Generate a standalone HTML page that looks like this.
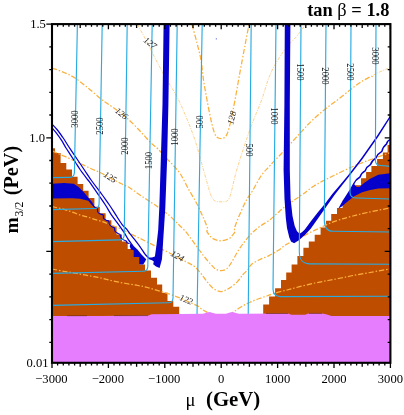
<!DOCTYPE html>
<html lang="en">
<head>
<meta charset="utf-8">
<title>tan beta = 1.8</title>
<style>
html,body{margin:0;padding:0;background:#fff;}
body{width:404px;height:415px;overflow:hidden;}
svg{display:block;will-change:transform;}
</style>
</head>
<body>
<svg width="404" height="415" viewBox="0 0 404 415">
<rect width="404" height="415" fill="#fff"/>
<path fill="#BF4D00" d="M52 316.2 L52 148.3 L55 148.3 L55 153.1 L60.6 153.1 L60.6 163 L66.3 163 L66.3 169.4 L72 169.4 L72 176.8 L77.6 176.8 L77.6 184 L83.2 184 L83.2 190.7 L88.6 190.7 L88.6 198 L94.4 198 L94.4 206.7 L99.8 206.7 L99.8 213.2 L105.6 213.2 L105.6 220.2 L111.4 220.2 L111.4 226.6 L116.6 226.6 L116.6 234.4 L122 234.4 L122 241.6 L127.7 241.6 L127.7 249 L133.3 249 L133.3 257 L139.1 257 L139.1 264.5 L145 264.5 L145 270.4 L151 270.4 L151 277.8 L157 277.8 L157 284.5 L162.2 284.5 L162.2 292.7 L167.5 292.7 L167.5 300.9 L173.3 300.9 L173.3 306.8 L179.2 306.8 L179.2 316.2Z"/>
<path fill="#BF4D00" d="M390.4 316.2 L390.4 145 L387.6 145 L387.6 152.5 L382.9 152.5 L382.9 159 L377.1 159 L377.1 165.9 L371.4 165.9 L371.4 172.1 L366.1 172.1 L366.1 178.2 L361 178.2 L361 185.2 L354.6 185.2 L354.6 193.1 L348.4 193.1 L348.4 200.6 L342.6 200.6 L342.6 208 L337 208 L337 214.1 L331.2 214.1 L331.2 220.8 L325.9 220.8 L325.9 227.5 L320.6 227.5 L320.6 234.7 L314.7 234.7 L314.7 241.4 L308.8 241.4 L308.8 247.8 L303.4 247.8 L303.4 256 L297.4 256 L297.4 264.5 L291.6 264.5 L291.6 272.6 L286.2 272.6 L286.2 280.1 L281 280.1 L281 288.2 L275.1 288.2 L275.1 296.4 L269.1 296.4 L269.1 304.6 L263.2 304.6 L263.2 316.2Z"/>
<path fill="#0600CB" d="M52 183.7 L64.1 182.9 L73.7 183.7 L78.6 186.9 L83.4 191.7 L88.2 197.4 L92.2 202.2 L94.9 207.6 L91.4 204.6 L88.2 200.8 L80.2 198.7 L72.1 198.2 L52 198.6Z"/>
<path fill="#0600CB" d="M390.4 173.2 L378.3 174.8 L370.2 178.8 L364 183 L359.6 187 L356.8 187 L355.4 185.8 L353.8 183.6 L352.8 184 L349.8 189.6 L346.8 194.2 L343.4 199.6 L340.5 204.6 L338.4 208.6 L341.5 206.8 L346.1 202.8 L354.1 196.3 L362.2 192.3 L370.2 189.9 L378.3 188.5 L390.4 188.3Z"/>
<g fill="none" stroke="#FBB03B" stroke-linecap="butt">
<path stroke-width="1.25" stroke-dasharray="5.2 1.9 1.5 1.9" d="M192 24.5 C192.8 27.6 195.5 37.1 197 43 C198.5 48.9 199.9 53.8 201 60 C202.1 66.2 202.5 73.3 203.5 80 C204.5 86.7 205.8 93.3 207 100 C208.2 106.7 209.8 114.5 211 120 C212.2 125.5 213.4 130.1 214.5 133 C215.6 135.9 216.4 136.7 217.5 137.6 C218.6 138.5 219.8 138.6 221 138.6 C222.2 138.6 223.4 138.5 224.5 137.6 C225.6 136.7 226.4 135.9 227.5 133 C228.6 130.1 229.8 125.5 231 120 C232.2 114.5 233.5 108 235 100 C236.5 92 238.4 80.7 240 72 C241.6 63.3 243 55.9 244.5 48 C246 40.1 248.2 28.4 249 24.5"/>
<path stroke-width="1.25" stroke-dasharray="5.2 1.9 1.5 1.9" d="M52 68 C54 68.8 60.2 70.8 64 72.5 C67.8 74.2 71 75.4 75 78 C79 80.6 83.7 84.5 88 88 C92.3 91.5 97.7 96.3 101 99 C104.3 101.7 105.2 102 108 104 C110.8 106 114.7 108.5 118 111 C121.3 113.5 124.3 115.7 128 119 C131.7 122.3 136.2 127 140 131 C143.8 135 148 140 151 143 C154 146 155.5 146.5 158 149 C160.5 151.5 163.5 155.3 166 158 C168.5 160.7 170.5 162.2 173 165 C175.5 167.8 178.3 170.8 181 175 C183.7 179.2 186.3 185.2 189 190 C191.7 194.8 194.7 199.5 197 204 C199.3 208.5 201.2 212.9 203 217 C204.8 221.1 207 226.2 207.6 228.6 C208.2 231 206.5 230.2 206.8 231.2 C207.1 232.2 208.2 233.6 209.2 234.8 C210.2 236 211 237.6 213 238.6 C215 239.6 218.3 240.8 221 240.8 C223.7 240.8 227 239.6 229 238.6 C231 237.6 231.8 236 232.8 234.8 C233.8 233.6 234.9 232.2 235.2 231.2 C235.5 230.2 234.1 230.3 234.4 228.6 C234.7 226.9 235.8 224.1 237 221 C238.2 217.9 240.1 213.5 241.8 209.8 C243.5 206.1 245.1 202.3 247 199 C248.9 195.7 250.7 193.8 253 190 C255.3 186.2 258.2 180.1 261 176 C263.8 171.9 266.7 169.3 270 165.6 C273.3 161.9 277.3 157.9 281 154 C284.7 150.1 288.3 146 292 142 C295.7 138 299.6 133.7 303 130 C306.4 126.3 308.9 123.5 312.6 120 C316.3 116.5 321.1 112.4 325.3 109 C329.5 105.6 333.9 102.7 338 99.5 C342.1 96.3 346.4 92.8 350 90 C353.6 87.2 356.9 84.7 359.4 83 C361.9 81.3 363 80.7 365 79.6 C367 78.5 370.1 76.7 371.5 76.4 C372.9 76.1 373.2 77.4 373.6 77.6"/>
<path stroke-width="1.25" stroke-dasharray="5.2 1.9 1.5 1.9" d="M52 150.9 C54.5 152 63 155.6 67.3 157.5 C71.6 159.4 74.3 160.8 78 162.5 C81.7 164.2 85.8 166.2 89.6 168 C93.4 169.8 97.3 171.2 101 173 C104.7 174.8 108.5 177.2 112 179 C115.5 180.8 119 182.5 122 184 C125 185.5 127.2 186.3 130 188 C132.8 189.7 135.8 192.2 138.5 194 C141.2 195.8 143.5 197.3 146 199 C148.5 200.7 150.8 202.2 153.5 204 C156.2 205.8 159.2 208 162 210 C164.8 212 167.5 213.8 170 216 C172.5 218.2 174.5 220.5 177 223 C179.5 225.5 182.4 228 184.9 230.8 C187.4 233.6 189.5 236.7 192 240 C194.5 243.3 197.5 247.7 199.7 250.6 C201.9 253.5 203.2 255.2 205 257.5 C206.8 259.8 209.1 262.4 210.8 264.3 C212.6 266.2 213.8 267.9 215.5 269 C217.2 270.1 219.2 270.6 221 270.6 C222.8 270.6 224.7 270.5 226.5 269 C228.3 267.5 230 264.8 231.9 261.8 C233.8 258.8 235.9 254.3 238 251 C240.1 247.7 242.1 244.8 244.3 242 C246.5 239.2 248.6 236.5 251 234 C253.4 231.5 255.8 229.4 259 227 C262.2 224.6 266.8 222.1 270 219.7 C273.2 217.3 275.5 214.8 278 212.6 C280.5 210.4 282.5 208.6 285 206.7 C287.5 204.8 290 203.1 293 201 C296 198.9 299.5 196.5 303 194 C306.5 191.5 310 188.5 314 186 C318 183.5 322.5 181.2 326.8 179 C331.1 176.8 335.6 174.6 340 172.5 C344.4 170.4 349 168.2 353 166.5 C357 164.8 360.2 163.4 364 162 C367.8 160.6 371.1 159.4 375.5 157.8 C379.9 156.2 387.9 153.5 390.4 152.6"/>
<path stroke-width="1.25" stroke-dasharray="5.2 1.9 1.5 1.9" d="M52 206.7 C54 207.1 60.8 208.5 64.1 209.4 C67.4 210.3 69.3 211.1 72 212 C74.7 212.9 77.5 214.1 80.2 215 C82.9 215.9 85.3 216.4 88 217.2 C90.7 218 93.6 219 96.3 219.8 C99 220.6 101.6 221.3 104 222.2 C106.4 223.1 108.1 224 110.8 225 C113.5 226 116.8 227 120 228.4 C123.2 229.8 126.7 231.9 130 233.6 C133.3 235.3 136.7 236.8 140 238.4 C143.3 240 146.7 241.7 150 243.4 C153.3 245.1 156.7 246.8 160 248.4 C163.3 250 166.7 251.5 170 253.2 C173.3 254.9 177 257 180 258.6 C183 260.2 185.5 261.5 188 262.8 C190.5 264.1 192.6 264.9 194.8 266.7 C197 268.5 199 271 201 273.5 C203 276 204.9 279.1 207 281.6 C209.1 284.1 211.2 287 213.5 288.6 C215.8 290.2 218.5 291.5 221 291.5 C223.5 291.5 225.8 290.2 228.5 288.6 C231.2 287 234.8 284.2 237.2 281.9 C239.6 279.5 241.3 276.5 243 274.5 C244.7 272.5 246.2 271.7 247.6 270 C249 268.3 249.6 266.1 251.7 264.3 C253.8 262.6 257.1 260.9 260 259.5 C262.9 258.1 266 257.1 269 255.6 C272 254.1 275.3 252.2 278 250.5 C280.7 248.8 282.7 246.8 285 245.3 C287.3 243.8 289.5 242.7 292 241.5 C294.5 240.3 297.1 239.3 299.9 237.9 C302.7 236.5 305.8 234.6 309 233 C312.2 231.4 316 229.7 319.2 228.2 C322.4 226.7 324.5 225.4 328 224 C331.5 222.6 335.8 220.9 340 219.6 C344.2 218.3 348.3 217.2 353 216 C357.7 214.8 362.6 213.6 368 212.4 C373.4 211.2 381.8 209.6 385.5 208.8 C389.2 208 389.6 208 390.4 207.8"/>
<path stroke-width="1.25" stroke-dasharray="5.2 1.9 1.5 1.9" d="M52 269 C54.2 269.4 60.8 270.8 65 271.5 C69.2 272.2 73 272.8 77 273.5 C81 274.2 85 275.1 89 275.8 C93 276.6 97 277.1 101 278 C105 278.9 108.8 280.1 113 281 C117.2 281.9 121.8 282.8 126 283.5 C130.2 284.2 134.4 284.8 138 285.5 C141.6 286.2 144 286.6 147.3 287.5 C150.6 288.4 154.3 289.5 158 290.6 C161.7 291.7 165.9 293 169.6 294.2 C173.3 295.4 176.8 296.6 180 297.9 C183.2 299.2 186.2 300.7 189 302 C191.8 303.3 194.7 304.3 197 305.6 C199.3 306.9 201.2 308.9 203 310 C204.8 311.1 205.8 311.6 207.5 312.5 C209.2 313.4 212.1 315 213 315.5"/>
<path stroke-width="1.25" stroke-dasharray="5.2 1.9 1.5 1.9" d="M229.5 315.5 C230.2 314.9 232.1 313 234 311.6 C235.9 310.2 238.5 308.5 241 307 C243.5 305.5 246.2 304 249 302.7 C251.8 301.4 255 300.1 258 299 C261 297.9 264.3 296.9 267 296 C269.7 295.1 271 294.4 274.3 293.4 C277.6 292.4 282.8 291.1 287 290 C291.2 288.9 294.9 287.9 299.6 286.7 C304.3 285.5 310.3 284 315 283 C319.7 282 323.7 281.3 328 280.5 C332.3 279.7 336.8 278.8 341 278 C345.2 277.2 348.2 276.4 353 275.5 C357.8 274.6 363.8 273.6 370 272.5 C376.2 271.4 387 269.4 390.4 268.8"/>
<path stroke-width="0.65" stroke-opacity="0.9" stroke-dasharray="3.2 1.2 1 1.2" d="M137.5 24.5 C139.1 27.4 143.7 35.7 147 42 C150.3 48.3 154 56.2 157.3 62.5 C160.6 68.8 163.9 74.6 167 80 C170.1 85.4 173.2 89.7 176 95 C178.8 100.3 180.9 104.6 184 112 C187.1 119.4 191.6 129.9 194.8 139.6 C198.1 149.3 200.9 160.9 203.5 170 C206.1 179.1 208.7 188.9 210.5 194 C212.3 199.1 212.8 199.3 214.5 200.6 C216.2 201.9 218.8 201.8 221 201.8 C223.2 201.8 225.8 202.1 227.5 200.6 C229.2 199.1 229.7 197.4 231 193 C232.3 188.6 233.6 181.2 235.6 174 C237.6 166.8 240.3 158.2 243 150 C245.7 141.8 248.6 133.1 251.7 124.8 C254.8 116.5 258.4 108.7 261.6 100 C264.8 91.3 267.2 80.8 271 72.5 C274.8 64.2 280.2 56.1 284.5 50 C288.8 43.9 293.5 40.2 297 36 C300.5 31.8 304.1 26.4 305.5 24.5"/>
<path stroke-width="0.65" stroke-opacity="0.9" stroke-dasharray="3.2 1.2 1 1.2" d="M373.4 75.2 L376 73.6 L390.4 67.2"/>
</g>
<path fill="#0600CB" d="M163.6 24.1 L162.5 104 L160.8 160 L159.3 208 L158.2 230 L156.5 245 L154.9 256.6 L152 257.5 L148.4 257.5 L148.4 258.9 L152 260.2 L153.8 261.4 L153.2 264.2 L156 266.4 L159.6 268 L161.9 259.6 L162.5 252 L163.2 240 L164.2 225 L165.3 208 L167.1 160 L168.4 104 L169.6 24.1Z"/>
<path fill="#0600CB" d="M130.4 243.4 L132.9 245.2 L137.4 249.6 L141.3 254.2 L144.2 257.2 L146.2 259.2 L145 261.8 L143.2 264.4 L139.1 264.4 L139.1 257 L133.3 257 L133.3 250.2 L131 249.4 L129.7 246.2Z"/>
<path fill="#0600CB" d="M290.4 24.1 L289.8 104 L289.8 170 L290.6 199 L292.5 216 L294.7 226 L297 231.2 L299.6 233.7 L302.2 232 L304.8 229.5 L310.7 221.5 L317.7 212.6 L324.6 204.3 L332.5 193.8 L340.4 184.4 L347.9 175.4 L361.4 158 L377.2 135.6 L390 115.8 L390.4 117.6 L378.4 136.6 L362.6 159 L349.6 175.8 L342.3 184.9 L334.5 195 L326.4 206.5 L318.5 217.7 L310.7 228.8 L304.8 234.9 L298.9 240.3 L294.1 243.2 L291 241.4 L289.3 237.4 L287 228 L285.8 218 L284.5 199 L283.6 170 L284.4 104 L284.8 24.1Z"/>
<g fill="none" stroke="#0600CB" stroke-width="1.25" stroke-linejoin="round">
<path d="M52 124.1 C52.8 125 55.2 127.3 57 129.5 C58.8 131.7 61.2 135.1 62.9 137.5 C64.6 139.9 65.7 141.9 67 144 C68.3 146.1 69.3 147.6 71 150.1 C72.7 152.6 74.8 155.7 77 159 C79.2 162.3 82.1 166.5 84.4 170 C86.8 173.5 88.1 175.8 91.1 180 C94.1 184.2 99.2 190.8 102.3 195 C105.3 199.2 107.2 201.7 109.4 205 C111.7 208.3 113.7 211.6 115.8 214.9 C117.9 218.2 120.4 222.3 122.3 224.8 C124.2 227.3 125.8 228.2 127.2 229.8 C128.6 231.5 129.4 233 130.7 234.7 C132 236.4 133.2 237.7 134.9 239.9 C136.6 242.1 139.2 245.5 140.8 247.8 C142.5 250.1 143.5 252.1 144.8 253.8 C146.1 255.5 148 257.3 148.6 258"/>
<path d="M52 128 C52.8 129 55.3 131.6 57 133.8 C58.7 136 60.6 138.8 62.1 141.2 C63.6 143.6 64.6 145.8 66 148 C67.4 150.2 68.8 152.3 70.3 154.6 C71.8 156.9 73.5 159.4 75.2 162 C76.9 164.6 78.3 167 80.4 170 C82.5 173 86.1 177.5 88 180 C89.9 182.5 89.8 182.3 91.6 184.8 C93.4 187.3 96.3 191.6 98.6 195 C100.9 198.4 103.3 201.7 105.4 205 C107.5 208.3 109.2 211.6 111.4 214.9 C113.6 218.2 117 222.3 118.8 224.8 C120.6 227.3 121.2 228.2 122.3 229.8 C123.4 231.5 124.6 233.2 125.5 234.7 C126.4 236.2 126.7 237.1 127.9 238.9 C129.1 240.8 132.1 244.7 132.9 245.8"/>
<path stroke-width="1.1" d="M92.6 204.8 C92.8 205.1 93.9 206.6 94.4 207 C94.9 207.4 96.8 207.6 97.2 208.2 C97.6 208.8 97.4 211.2 97.7 211.9 C98 212.6 99.6 213.8 100.2 214.1 C100.8 214.4 102.7 214.3 103.1 214.8 C103.5 215.3 103.2 217.9 103.6 218.6 C104 219.3 106.2 220.1 106.8 220.4 C107.4 220.7 108.4 220.7 108.7 221.2 C109 221.7 109 223.9 109.4 224.5 C109.8 225.1 111.4 226.3 112 226.7 C112.6 227.1 114 227.3 114.3 227.8 C114.6 228.3 114.6 230.6 115 231.2 C115.4 231.8 117 232.8 117.6 233.2 C118.2 233.6 119.6 233.9 120 234.4 C120.4 234.9 120.5 237 120.8 237.6 C121.1 238.2 122.4 239.2 123 239.6 C123.6 240 125.5 240.4 126 240.8 C126.5 241.2 126.6 242.5 127 242.8 C127.4 243.1 129.3 243.5 129.6 243.6"/>
<path stroke-width="1.5" d="M390.4 139.6 Q387.3 140.6 386.6 143.8 Q382.9 146.7 381.9 151.3 Q377.8 153.5 376.1 157.8 Q372 160.2 370.4 164.7 Q366.5 166.8 365.1 170.9 Q361.3 172.9 360 177 Q355.6 179.4 353.6 184"/>
</g>
<path fill="none" stroke="#6a6ae0" stroke-width="0.8" d="M216.3 38v1.6"/>
<path fill="none" stroke="#29ABE2" stroke-width="1.15" d="M77.4 24.1 L74.4 172.6 Q74.2 177.3 69.8 177.4 L52 177.6 M102.2 24.1 L99.1 203.7 Q98.9 208.4 94.5 208.5 L52 209.6 M127.2 24.1 L124.2 235.1 Q124 239.8 119.6 239.9 L52 241.6 M152.2 24.1 L147.8 266.5 Q147.6 271.2 143.2 271.3 L52 273.4 M177.2 24.1 L173 297.9 Q172.8 302.6 168.4 302.7 L52 305.4 M202.2 24.1 L197 315.2 M251.2 24.1 L248.2 315.2 M276 24.1 L273 289 C273.1 294.2 275.4 296.5 280.6 296.6 L390.4 296.2 M301 24.1 L299.3 251.8 C299.4 260.2 302.5 263.8 309.9 263.9 L390.4 264.2 M326 24.1 L324.3 220.2 C324.4 227.9 326.9 231.2 332.9 231.3 L390.4 232 M351 24.1 L350 192.4 C350.1 196.2 352.1 197.9 356.6 198 L390.4 199 M376 24.1 L375.4 160.4 C375.5 163.9 377.1 165.4 381 165.5 L390.4 166.4"/>
<path fill="#E67DFF" d="M52 362.8 L52 316 L100 316 L128 315.8 L148.5 315.6 L151.5 314.2 L180 313.9 L203 313.7 L206 312.8 L209.5 312 L213 313 L216 313.7 L226 313.7 L229 312.8 L232.2 312 L236 313 L239 313.7 L288 313.6 L291.5 314.8 L305 314.8 L308.5 313.6 L322 313.6 L326 314.3 L331.5 316 L390.4 316 L390.4 362.8Z"/>
<path fill="none" stroke="#5b2413" stroke-width="0.7" stroke-opacity="0.75" d="M67 315.7H87M114 315.6H148M266 313.5H288M309 313.4H322"/>
<rect x="52" y="24.1" width="338.4" height="338.7" fill="none" stroke="#000" stroke-width="2.1"/>
<path fill="none" stroke="#000" stroke-width="1.3" d="M52 24.1 v5.2 M52 362.8 v5.2 M57.6 24.1 v2.6 M57.6 362.8 v2.6 M63.3 24.1 v2.6 M63.3 362.8 v2.6 M68.9 24.1 v2.6 M68.9 362.8 v2.6 M74.6 24.1 v2.6 M74.6 362.8 v2.6 M80.2 24.1 v4 M80.2 362.8 v4 M85.8 24.1 v2.6 M85.8 362.8 v2.6 M91.5 24.1 v2.6 M91.5 362.8 v2.6 M97.1 24.1 v2.6 M97.1 362.8 v2.6 M102.8 24.1 v2.6 M102.8 362.8 v2.6 M108.4 24.1 v5.2 M108.4 362.8 v5.2 M114 24.1 v2.6 M114 362.8 v2.6 M119.7 24.1 v2.6 M119.7 362.8 v2.6 M125.3 24.1 v2.6 M125.3 362.8 v2.6 M131 24.1 v2.6 M131 362.8 v2.6 M136.6 24.1 v4 M136.6 362.8 v4 M142.2 24.1 v2.6 M142.2 362.8 v2.6 M147.9 24.1 v2.6 M147.9 362.8 v2.6 M153.5 24.1 v2.6 M153.5 362.8 v2.6 M159.2 24.1 v2.6 M159.2 362.8 v2.6 M164.8 24.1 v5.2 M164.8 362.8 v5.2 M170.4 24.1 v2.6 M170.4 362.8 v2.6 M176.1 24.1 v2.6 M176.1 362.8 v2.6 M181.7 24.1 v2.6 M181.7 362.8 v2.6 M187.4 24.1 v2.6 M187.4 362.8 v2.6 M193 24.1 v4 M193 362.8 v4 M198.6 24.1 v2.6 M198.6 362.8 v2.6 M204.3 24.1 v2.6 M204.3 362.8 v2.6 M209.9 24.1 v2.6 M209.9 362.8 v2.6 M215.6 24.1 v2.6 M215.6 362.8 v2.6 M221.2 24.1 v5.2 M221.2 362.8 v5.2 M226.8 24.1 v2.6 M226.8 362.8 v2.6 M232.5 24.1 v2.6 M232.5 362.8 v2.6 M238.1 24.1 v2.6 M238.1 362.8 v2.6 M243.8 24.1 v2.6 M243.8 362.8 v2.6 M249.4 24.1 v4 M249.4 362.8 v4 M255 24.1 v2.6 M255 362.8 v2.6 M260.7 24.1 v2.6 M260.7 362.8 v2.6 M266.3 24.1 v2.6 M266.3 362.8 v2.6 M272 24.1 v2.6 M272 362.8 v2.6 M277.6 24.1 v5.2 M277.6 362.8 v5.2 M283.2 24.1 v2.6 M283.2 362.8 v2.6 M288.9 24.1 v2.6 M288.9 362.8 v2.6 M294.5 24.1 v2.6 M294.5 362.8 v2.6 M300.2 24.1 v2.6 M300.2 362.8 v2.6 M305.8 24.1 v4 M305.8 362.8 v4 M311.4 24.1 v2.6 M311.4 362.8 v2.6 M317.1 24.1 v2.6 M317.1 362.8 v2.6 M322.7 24.1 v2.6 M322.7 362.8 v2.6 M328.4 24.1 v2.6 M328.4 362.8 v2.6 M334 24.1 v5.2 M334 362.8 v5.2 M339.6 24.1 v2.6 M339.6 362.8 v2.6 M345.3 24.1 v2.6 M345.3 362.8 v2.6 M350.9 24.1 v2.6 M350.9 362.8 v2.6 M356.6 24.1 v2.6 M356.6 362.8 v2.6 M362.2 24.1 v4 M362.2 362.8 v4 M367.8 24.1 v2.6 M367.8 362.8 v2.6 M373.5 24.1 v2.6 M373.5 362.8 v2.6 M379.1 24.1 v2.6 M379.1 362.8 v2.6 M384.8 24.1 v2.6 M384.8 362.8 v2.6 M390.4 24.1 v5.2 M390.4 362.8 v5.2 M52 342.3 h-2.7 M390.4 342.3 h-2.7 M52 319.6 h-2.7 M390.4 319.6 h-2.7 M52 296.9 h-2.7 M390.4 296.9 h-2.7 M52 274.1 h-2.7 M390.4 274.1 h-2.7 M52 251.4 h-5.7 M390.4 251.4 h-5.7 M52 228.7 h-2.7 M390.4 228.7 h-2.7 M52 206 h-2.7 M390.4 206 h-2.7 M52 183.2 h-2.7 M390.4 183.2 h-2.7 M52 160.5 h-2.7 M390.4 160.5 h-2.7 M52 137.8 h-5.7 M390.4 137.8 h-5.7 M52 115 h-2.7 M390.4 115 h-2.7 M52 92.3 h-2.7 M390.4 92.3 h-2.7 M52 69.6 h-2.7 M390.4 69.6 h-2.7 M52 46.8 h-2.7 M390.4 46.8 h-2.7 M52 24.1 h-5.7 M390.4 24.1 h-5.7"/>
<g font-family="'Liberation Serif', 'DejaVu Serif', serif" fill="#000">
<g font-size="12.6">
<text x="51.4" y="383.0" text-anchor="middle">−3000</text>
<text x="107.8" y="383.0" text-anchor="middle">−2000</text>
<text x="164.2" y="383.0" text-anchor="middle">−1000</text>
<text x="221.2" y="383.0" text-anchor="middle">0</text>
<text x="277.6" y="383.0" text-anchor="middle">1000</text>
<text x="334" y="383.0" text-anchor="middle">2000</text>
<text x="390.4" y="383.0" text-anchor="middle">3000</text>
<text x="45.9" y="27.9" text-anchor="end">1.5</text>
<text x="45.0" y="141.8" text-anchor="end">1.0</text>
<text x="48.6" y="366.6" text-anchor="end">0.01</text>
</g>
<g font-size="9.6" text-anchor="middle" fill="#111">
<text transform="translate(77.9 119) rotate(-90) scale(0.9 1)">3000</text>
<text transform="translate(102.9 126) rotate(-90) scale(0.9 1)">2500</text>
<text transform="translate(127.9 146) rotate(-90) scale(0.9 1)">2000</text>
<text transform="translate(152.2 160.5) rotate(-90) scale(0.9 1)">1500</text>
<text transform="translate(177.9 137) rotate(-90) scale(0.9 1)">1000</text>
<text transform="translate(202.9 122) rotate(-90) scale(0.9 1)">500</text>
<text transform="translate(246.3 150) rotate(90) scale(0.9 1)">500</text>
<text transform="translate(271.4 116) rotate(90) scale(0.9 1)">1000</text>
<text transform="translate(297.1 72) rotate(90) scale(0.9 1)">1500</text>
<text transform="translate(322 76) rotate(90) scale(0.9 1)">2000</text>
<text transform="translate(347.2 72) rotate(90) scale(0.9 1)">2500</text>
<text transform="translate(372.3 56) rotate(90) scale(0.9 1)">3000</text>
</g>
<g font-size="9" font-style="italic" text-anchor="middle" fill="#222">
<text transform="translate(150.2 43) rotate(38)" y="2.9">127</text>
<text transform="translate(121.5 113.6) rotate(38)" y="2.9">126</text>
<text transform="translate(110.2 177.2) rotate(33)" y="2.9">125</text>
<text transform="translate(177.4 256.2) rotate(30)" y="2.9">124</text>
<text transform="translate(186.1 299.7) rotate(22)" y="2.9">122</text>
<text transform="translate(231.8 117.8) rotate(-76)" y="2.9">128</text>
</g>
<text x="389.4" y="16.3" font-size="18.4" font-weight="bold" text-anchor="end">tan <tspan font-weight="normal">β</tspan> = 1.8</text>
<text x="185.6" y="406" font-size="18.5">μ</text>
<text x="206.0" y="406.2" font-size="20.8" font-weight="bold">(GeV)</text>
<text transform="translate(18.2 233.6) rotate(-90)" font-size="19.5" font-weight="bold">m</text>
<text transform="translate(23.4 216.6) rotate(-90)" font-size="11.6">3/2</text>
<text transform="translate(18.2 195.2) rotate(-90)" font-size="20.2" font-weight="bold">(PeV)</text>
</g>
</svg>
</body>
</html>
